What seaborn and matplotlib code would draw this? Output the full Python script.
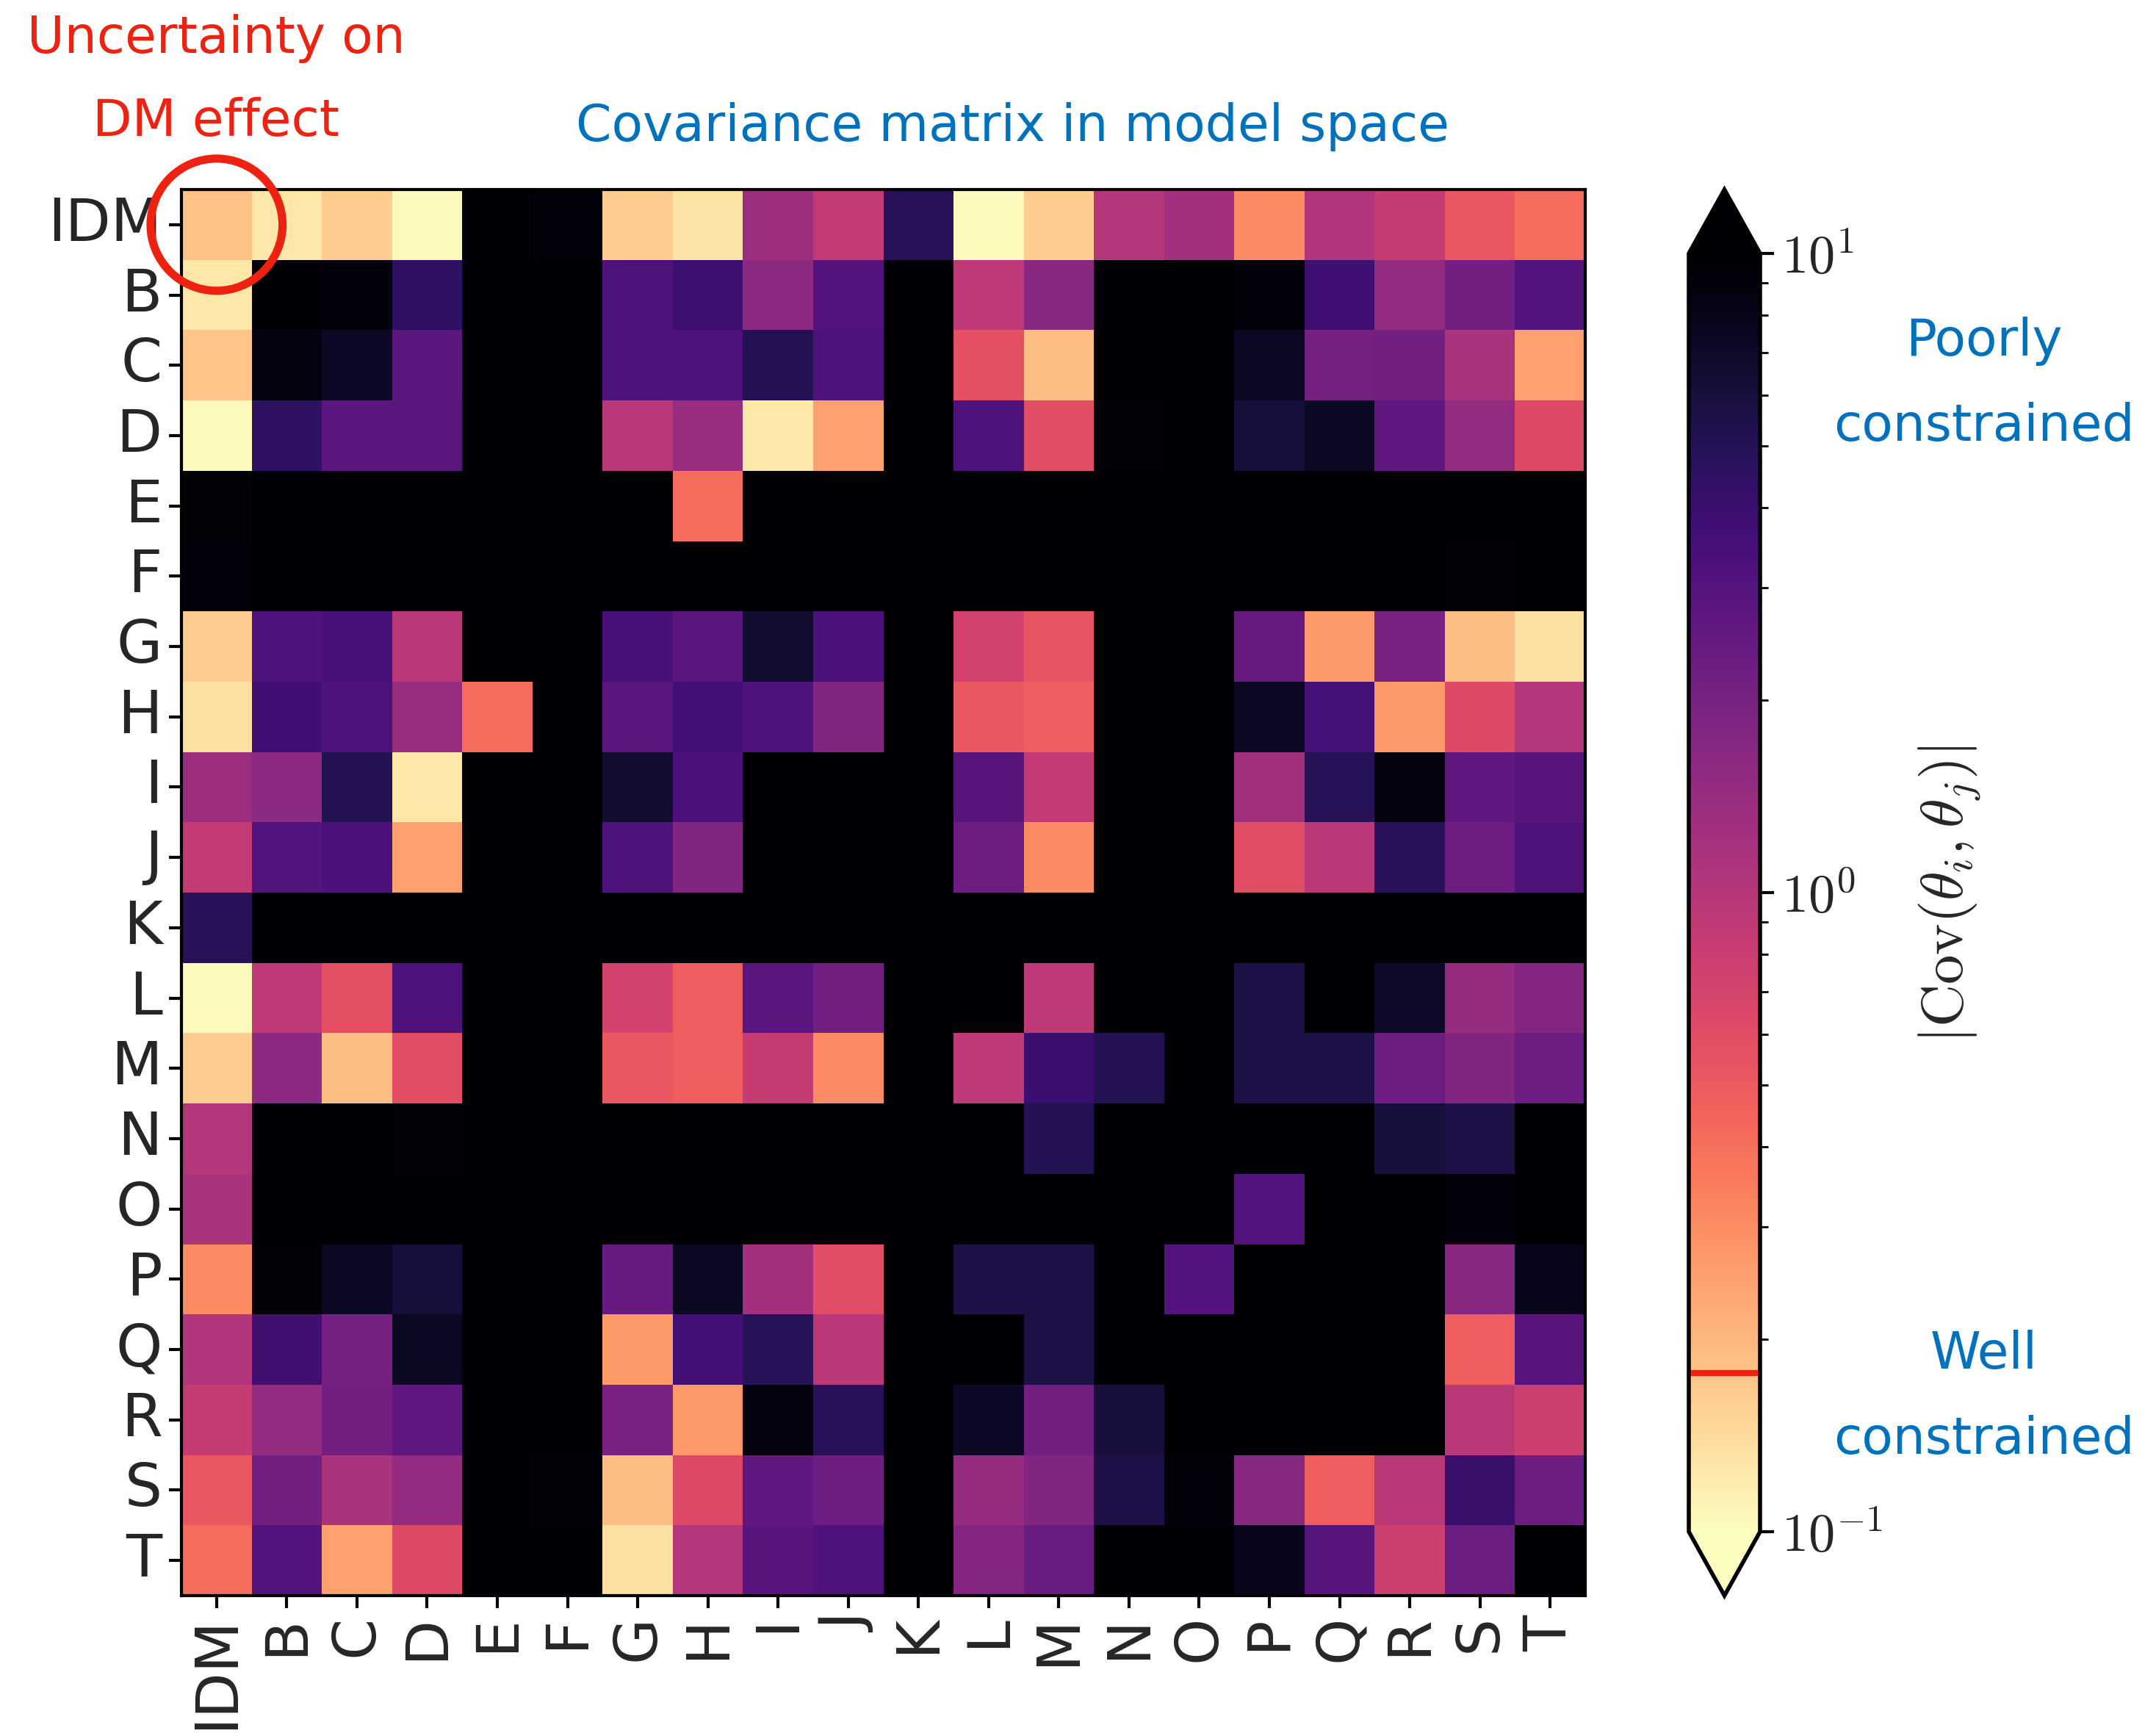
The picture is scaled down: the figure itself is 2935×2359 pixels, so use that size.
import numpy as np
import matplotlib
matplotlib.use("Agg")
import matplotlib.pyplot as plt
from matplotlib.colors import LogNorm
from matplotlib.patches import Circle
import seaborn as sns

# ---------------- data ----------------
labels = ["IDM", "B", "C", "D", "E", "F", "G", "H", "I", "J",
          "K", "L", "M", "N", "O", "P", "Q", "R", "S", "T"]
X = 20.0  # saturated (above colour range)

row_IDM = [0.18, 0.126, 0.165, 0.105, X, 9.2, 0.165, 0.13, 1.32, 0.87, 4.8, 0.105, 0.165, 1.0, 1.22, 0.31, 1.05, 0.85, 0.52, 0.41]
row_B = [0.126, X, 9.0, 4.5, X, X, 3.2, 3.9, 1.58, 3.1, X, 0.92, 1.63, X, X, 9.2, 3.75, 1.48, 2.15, 3.1]
row_C = [0.175, 8.7, 7.2, 2.75, X, X, 3.2, 3.2, 5.1, 3.2, X, 0.58, 0.19, X, X, 7.4, 2.05, 2.15, 1.15, 0.25]
row_D = [0.105, 4.5, 2.8, 2.8, X, X, 0.96, 1.4, 0.126, 0.25, X, 3.2, 0.6, 9.6, X, 6.1, 7.4, 2.6, 1.48, 0.63]
row_E = [9.6, X, X, X, X, X, X, 0.41, X, X, X, X, X, X, X, X, X, X, X, X]
row_F = [9.0, X, X, X, X, X, X, X, X, X, X, X, X, X, X, X, X, X, 9.4, X]
row_G = [0.165, 3.2, 3.45, 0.96, X, X, 3.45, 2.75, 6.5, 3.3, X, 0.72, 0.54, X, X, 2.45, 0.27, 1.95, 0.19, 0.135]
row_H = [0.135, 3.75, 3.2, 1.4, 0.41, X, 2.75, 3.7, 3.2, 1.8, X, 0.52, 0.48, X, X, 7.4, 3.55, 0.27, 0.63, 1.0]
row_I = [1.32, 1.58, 5.1, 0.126, X, X, 6.5, 3.3, X, X, X, 2.85, 0.87, X, X, 1.22, 4.95, 8.7, 2.6, 2.85]
row_J = [0.87, 3.1, 3.3, 0.25, X, X, 3.2, 1.8, X, X, X, 2.25, 0.31, X, X, 0.6, 0.96, 4.8, 2.25, 3.2]
row_K = [4.8, X, X, X, X, X, X, X, X, X, X, X, X, X, X, X, X, X, X, X]
row_L = [0.105, 0.92, 0.58, 3.2, X, X, 0.72, 0.48, 2.8, 2.15, X, X, 0.92, X, X, 5.6, X, 7.0, 1.43, 1.72]
row_M = [0.165, 1.58, 0.19, 0.6, X, X, 0.52, 0.48, 0.85, 0.31, X, 0.92, 3.95, 5.1, X, 5.6, 5.6, 2.25, 1.8, 2.3]
row_N = [1.0, X, X, 9.6, X, X, X, X, X, X, X, X, 5.1, X, X, X, X, 6.0, 5.6, X]
row_O = [1.15, X, X, X, X, X, X, X, X, X, X, X, X, X, X, 3.05, X, X, 9.2, X]
row_P = [0.31, 9.6, 7.4, 6.1, X, X, 2.45, 7.4, 1.22, 0.6, X, 5.6, 5.6, X, 3.05, X, X, X, 1.63, 7.9]
row_Q = [1.05, 3.85, 2.05, 7.4, X, X, 0.27, 3.7, 4.95, 0.96, X, X, 5.6, X, X, X, X, X, 0.48, 2.85]
row_R = [0.85, 1.48, 2.15, 2.6, X, X, 1.95, 0.27, 8.7, 4.8, X, 7.2, 2.15, 6.0, X, X, X, X, 0.96, 0.78]
row_S = [0.52, 2.15, 1.15, 1.48, X, 9.4, 0.19, 0.63, 2.6, 2.25, X, 1.43, 1.8, 5.6, 9.2, 1.63, 0.48, 0.96, 4.1, 2.25]
row_T = [0.41, 3.1, 0.25, 0.63, X, X, 0.135, 1.0, 2.85, 3.2, X, 1.72, 2.4, X, X, 7.9, 2.85, 0.78, 2.3, X]

threshold = 0.177
cbar_ticks = [0.1, 1.0, 10.0]
cbar_ticklabels = [r"$10^{-1}$", r"$10^{0}$", r"$10^{1}$"]

rows = [row_IDM, row_B, row_C, row_D, row_E, row_F, row_G, row_H, row_I, row_J,
        row_K, row_L, row_M, row_N, row_O, row_P, row_Q, row_R, row_S, row_T]
matrix = np.array(rows, dtype=float)

# ---------------- style ----------------
sns.set_style("white")
plt.rcParams["font.family"] = ["DejaVu Sans"]
plt.rcParams["mathtext.fontset"] = "cm"

BLUE = "#0072BD"
RED = "#EE2211"

W, H = 2935, 2359
DPI = 200
fig = plt.figure(figsize=(W / DPI, H / DPI), dpi=DPI)

ax = fig.add_axes([247 / W, 1 - 2172 / H, 1911 / W, 1914 / H])
cax = fig.add_axes([2299 / W, 1 - 2172 / H, 97 / W, 1914 / H])

sns.heatmap(matrix, ax=ax, cbar_ax=cax, cmap="magma_r",
            norm=LogNorm(vmin=0.1, vmax=10),
            cbar_kws={"extend": "both"},
            xticklabels=labels, yticklabels=labels, square=False)

# heatmap frame and ticks
for sp in ax.spines.values():
    sp.set_visible(True)
    sp.set_linewidth(1.5)
    sp.set_color("black")
ax.tick_params(axis="both", which="major", length=6, width=1.5,
               color="black", labelsize=29, direction="out",
               bottom=True, left=True)
plt.setp(ax.get_xticklabels(), rotation=90)
plt.setp(ax.get_yticklabels(), rotation=0)

# red circle around the IDM-IDM cell
circ = Circle((0.5, 0.5), 0.94, fill=False, edgecolor=RED, linewidth=4.0,
              clip_on=False, zorder=10)
ax.add_patch(circ)

# colorbar
cbar = ax.collections[0].colorbar
cbar.outline.set_linewidth(2.0)
cbar.outline.set_edgecolor("black")
cbar.set_ticks(cbar_ticks)
cbar.set_ticklabels(cbar_ticklabels)
cax.tick_params(which="major", length=7, width=1.5, labelsize=26, color="black")
cax.tick_params(which="minor", length=4, width=1.0, color="black")
cax.axhline(threshold, color=RED, linewidth=3.0)

# texts
FS = 25
fig.text(1378 / W, 1 - 172 / H, "Covariance matrix in model space",
         color=BLUE, fontsize=FS, ha="center", va="center")
fig.text(294 / W, 1 - 52 / H, "Uncertainty on", color=RED, fontsize=FS,
         ha="center", va="center")
fig.text(294 / W, 1 - 165 / H, "DM effect", color=RED, fontsize=FS,
         ha="center", va="center")
fig.text(2701 / W, 1 - 464 / H, "Poorly", color=BLUE, fontsize=FS,
         ha="center", va="center")
fig.text(2701 / W, 1 - 580 / H, "constrained", color=BLUE, fontsize=FS,
         ha="center", va="center")
fig.text(2701 / W, 1 - 1844 / H, "Well", color=BLUE, fontsize=FS,
         ha="center", va="center")
fig.text(2701 / W, 1 - 1960 / H, "constrained", color=BLUE, fontsize=FS,
         ha="center", va="center")
fig.text(2654 / W, 1 - 1217 / H, r"$|\mathrm{Cov}(\theta_i, \theta_j)|$",
         fontsize=29, rotation=90, ha="center", va="center")

fig.savefig("out.png", dpi=DPI)
